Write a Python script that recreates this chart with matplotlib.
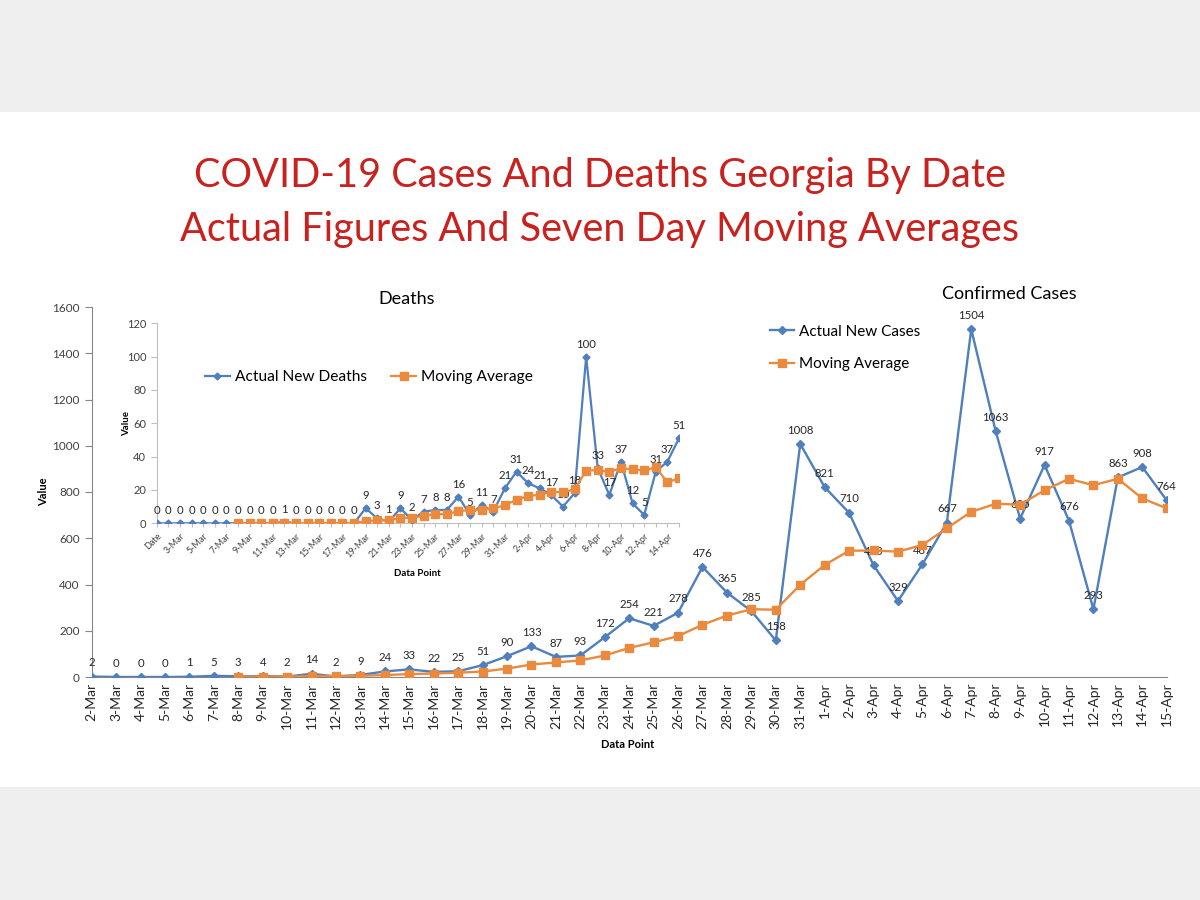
# COVID-19 Georgia: confirmed cases with a deaths inset, actual vs 7-day moving average
import numpy as np
import matplotlib.pyplot as plt
from matplotlib.patches import Rectangle

plt.rcParams['font.family'] = ['Lato', 'DejaVu Sans']

dates = [f'{d}-Mar' for d in range(2, 32)] + [f'{d}-Apr' for d in range(1, 16)]
death_dates = ['Date'] + dates

new_cases = [2, 0, 0, 0, 1, 5, 3, 4, 2, 14, 2, 9, 24, 33, 22, 25, 51, 90, 133, 87,
             93, 172, 254, 221, 278, 476, 365, 285, 158, 1008, 821, 710, 483, 329,
             487, 667, 1504, 1063, 685, 917, 676, 293, 863, 908, 764]
# moving average starts on 8-Mar
cases_avg = [1.6, 1.9, 2.1, 4.1, 4.4, 5.6, 8.3, 12.6, 15.1, 18.4, 23.7, 36.3, 54.0,
             63.0, 71.6, 93.0, 125.7, 150.0, 176.9, 225.9, 265.6, 293.0, 291.0, 398.7,
             484.4, 546.1, 547.1, 542.0, 570.9, 643.6, 714.4, 749.0, 745.4, 807.4,
             857.0, 829.3, 857.3, 772.1, 729.4]

new_deaths = [0, 0, 0, 0, 0, 0, 0, 0, 0, 0, 0, 1, 0, 0, 0, 0, 0, 0, 9, 3, 1, 9, 2,
              7, 8, 8, 16, 5, 11, 7, 21, 31, 24, 21, 17, 10, 18, 100, 33, 17, 37, 12,
              5, 31, 37, 51]
# moving average starts on 8-Mar
deaths_avg = [0, 0, 0, 0, 0.1, 0.1, 0.1, 0.1, 0.1, 0.1, 0.1, 1.3, 1.7, 1.9, 3.1, 3.4,
              4.4, 5.6, 5.4, 7.3, 7.9, 8.1, 8.9, 10.9, 14.1, 16.4, 17.1, 18.9, 18.7,
              20.3, 31.6, 31.9, 30.9, 33.1, 32.4, 31.7, 33.6, 24.6, 27.1]

blue = '#4f7fbd'
orange = '#ea8a3e'
red = '#c9211e'
W, H = 1200, 900

fig = plt.figure(figsize=(12, 9), dpi=100)
fig.patch.set_facecolor('#efefef')
fig.add_artist(Rectangle((0, 1 - 787 / H), 1, (787 - 112) / H, transform=fig.transFigure,
                         facecolor='white', edgecolor='none', zorder=0))

fig.text(0.5, 1 - 176 / H, 'COVID-19 Cases And Deaths Georgia By Date',
         ha='center', va='center', fontsize=28.5, color=red)
fig.text(0.5, 1 - 229 / H, 'Actual Figures And Seven Day Moving Averages',
         ha='center', va='center', fontsize=28.5, color=red)

# main chart: confirmed cases
ax = fig.add_axes([91.7 / W, 1 - 677 / H, 1075 / W, 370 / H])
ax.patch.set_alpha(0)
x = np.arange(len(dates))
ax.plot(x, new_cases, color=blue, marker='D', ms=4, lw=1.7, zorder=3, label='Actual New Cases')
ax.plot(x[6:], cases_avg, color=orange, marker='s', ms=5.5, lw=1.7, zorder=4, label='Moving Average')
for xi, v in zip(x, new_cases):
    ax.annotate(str(v), (xi, v), xytext=(0, 6), textcoords='offset points',
                ha='center', va='bottom', fontsize=8.2, color='#262626', annotation_clip=False)
ax.set_xlim(0, len(dates) - 1)
ax.set_ylim(0, 1600)
ax.set_yticks(range(0, 1601, 200))
ax.set_xticks(x)
ax.set_xticklabels(dates, rotation=90, fontsize=10, color='#262626')
ax.tick_params(axis='x', length=0, pad=4)
ax.tick_params(axis='y', length=5, color='#868686', labelsize=8.5, labelcolor='#404040')
for s in ['top', 'right']:
    ax.spines[s].set_visible(False)
for s in ['left', 'bottom']:
    ax.spines[s].set_color('#868686')
ax.legend(loc='center left', bbox_to_anchor=(770 / W, 1 - 348 / H), bbox_transform=fig.transFigure,
          frameon=False, fontsize=11, handlelength=1.6, handletextpad=0.3, labelspacing=1.2,
          borderpad=0, borderaxespad=0)
fig.text(1009 / W, 1 - 294 / H, 'Confirmed Cases', ha='center', va='center', fontsize=13)
fig.text(628 / W, 1 - 744 / H, 'Data Point', ha='center', va='center', fontsize=8, fontweight='bold')
fig.text(44 / W, 1 - 492 / H, 'Value', ha='center', va='center', fontsize=8,
         fontweight='bold', rotation=90)

# inset chart: deaths
ax2 = fig.add_axes([156.7 / W, 1 - 523.3 / H, 522.3 / W, 200 / H])
ax2.patch.set_alpha(0)
x2 = np.arange(len(death_dates))
ax2.plot(x2, new_deaths, color=blue, marker='D', ms=3.5, lw=1.6, zorder=3, label='Actual New Deaths')
ax2.plot(x2[7:], deaths_avg, color=orange, marker='s', ms=5.5, lw=1.6, zorder=4, label='Moving Average')
for xi, v in zip(x2, new_deaths):
    ax2.annotate(str(v), (xi, v), xytext=(0, 5), textcoords='offset points',
                 ha='center', va='bottom', fontsize=8.2, color='#262626', annotation_clip=False)
ax2.set_xlim(0, len(death_dates) - 1)
ax2.set_ylim(0, 120)
ax2.set_yticks(range(0, 121, 20))
ax2.set_xticks(x2)
ax2.set_xticklabels([lab if i % 2 == 0 else '' for i, lab in enumerate(death_dates)],
                    rotation=45, ha='right', rotation_mode='anchor', fontsize=6.5, color='#404040')
ax2.tick_params(axis='x', length=3, color='#bfbfbf', pad=3)
ax2.tick_params(axis='y', length=4, color='#bfbfbf', labelsize=8, labelcolor='#404040')
for s in ['top', 'right']:
    ax2.spines[s].set_visible(False)
for s in ['left', 'bottom']:
    ax2.spines[s].set_color('#bfbfbf')
ax2.legend(loc='center left', bbox_to_anchor=(205 / W, 1 - 377 / H), bbox_transform=fig.transFigure,
           frameon=False, fontsize=11.2, ncol=2, handlelength=1.6, handletextpad=0.3,
           columnspacing=1.6, borderpad=0, borderaxespad=0)
fig.text(407 / W, 1 - 299 / H, 'Deaths', ha='center', va='center', fontsize=13)
fig.text(417 / W, 1 - 573 / H, 'Data Point', ha='center', va='center', fontsize=7, fontweight='bold')
fig.text(127 / W, 1 - 423 / H, 'Value', ha='center', va='center', fontsize=7,
         fontweight='bold', rotation=90)

fig.savefig('out.png', dpi=100, facecolor=fig.get_facecolor())
